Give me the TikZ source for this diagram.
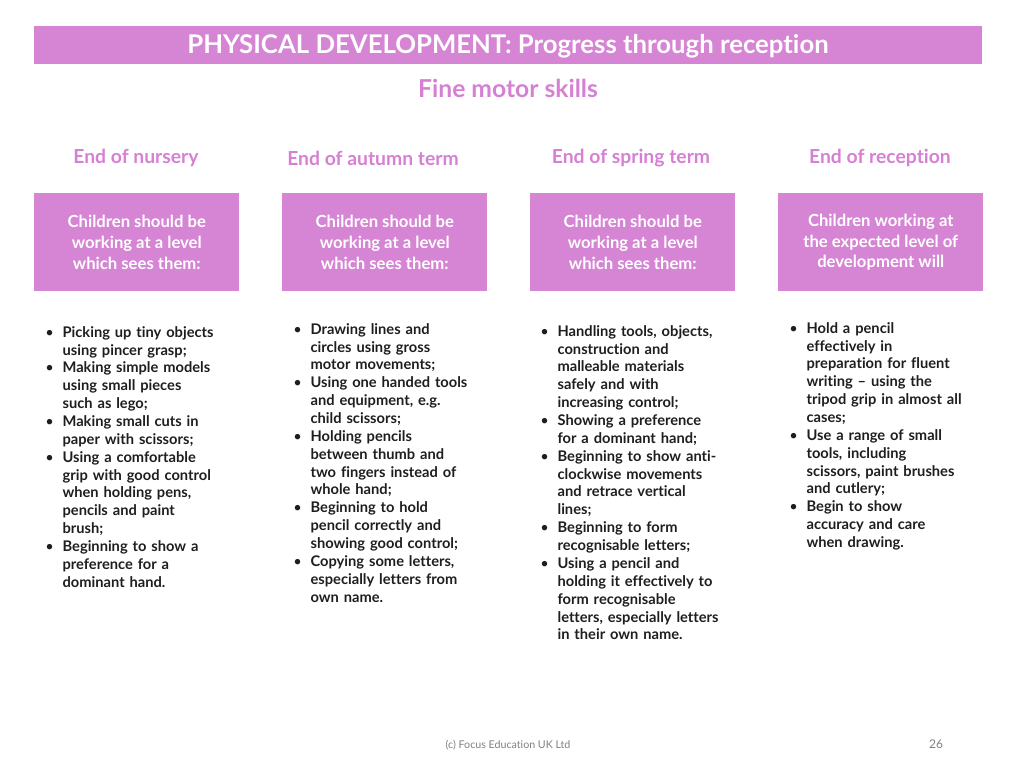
\documentclass[tikz,border=0pt]{standalone}
\usepackage{fontspec}
\setmainfont{Lato}[RawFeature={-liga;-dlig;-clig}]
\definecolor{pinkbar}{RGB}{214,132,212}
\definecolor{pinktxt}{RGB}{214,128,212}
\definecolor{bodytxt}{RGB}{30,30,30}
\newcommand\bit[1]{\par\noindent\hangindent=13pt\hbox to 13pt{\normalfont\textbullet\hfil}#1\par}
\begin{document}
\begin{tikzpicture}[x=0.75pt,y=-0.75pt,
  bar/.style={fill=pinkbar,draw=none},
  hdr/.style={text=pinktxt,font=\fontsize{14.5}{16}\selectfont\bfseries},
  stagebox/.style={fill=pinkbar,draw=none,minimum width=153.75pt,minimum height=73.5pt,anchor=north west,text=white,align=center,font=\fontsize{12.5}{15.5}\selectfont\bfseries},
  lst/.style={anchor=north west,text width=#1,align=left,text=bodytxt,inner sep=0pt,font=\fontsize{11}{13.4}\selectfont\bfseries}]
\useasboundingbox (0,0) rectangle (1024,768);
\fill[bar] (34,26) rectangle (982,64);
\node[text=white,font=\fontsize{19.3}{22}\selectfont\bfseries] (title) at (508,46) {PHYSICAL DEVELOPMENT: Progress through reception};
\node[hdr,font=\fontsize{18.5}{20}\selectfont\bfseries] (sub) at (508,88) {Fine motor skills};
\node[hdr] (h1) at (136,158) {End of nursery};
\node[hdr] (h2) at (373,158) {End of autumn term};
\node[hdr] (h3) at (631,158) {End of spring term};
\node[hdr] (h4) at (880,158) {End of reception};
\node[stagebox] (b1) at (34,193) {Children should be\\working at a level\\which sees them:};
\node[stagebox] (b2) at (282,193) {Children should be\\working at a level\\which sees them:};
\node[stagebox] (b3) at (530,193) {Children should be\\working at a level\\which sees them:};
\node[stagebox] (b4) at (778,193) {Children working at\\the expected level of\\development will};
\node[lst=150pt] (l1) at (45,319) {%
\bit{Picking up tiny objects\newline using pincer grasp;}
\bit{Making simple models\newline using small pieces\newline such as lego;}
\bit{Making small cuts in\newline paper with scissors;}
\bit{Using a comfortable\newline grip with good control\newline when holding pens,\newline pencils and paint\newline brush;}
\bit{Beginning to show a\newline preference for a\newline dominant hand.}};
\node[lst=150pt] (l2) at (293,316) {%
\bit{Drawing lines and\newline circles using gross\newline motor movements;}
\bit{Using one handed tools\newline and equipment, e.g.\newline child scissors;}
\bit{Holding pencils\newline between thumb and\newline two fingers instead of\newline whole hand;}
\bit{Beginning to hold\newline pencil correctly and\newline showing good control;}
\bit{Copying some letters,\newline especially letters from\newline own name.}};
\node[lst=150pt] (l3) at (540,318) {%
\bit{Handling tools, objects,\newline construction and\newline malleable materials\newline safely and with\newline increasing control;}
\bit{Showing a preference\newline for a dominant hand;}
\bit{Beginning to show anti-\newline clockwise movements\newline and retrace vertical\newline lines;}
\bit{Beginning to form\newline recognisable letters;}
\bit{Using a pencil and\newline holding it effectively to\newline form recognisable\newline letters, especially letters\newline in their own name.}};
\node[lst=150pt] (l4) at (789,315) {%
\bit{Hold a pencil\newline effectively in\newline preparation for fluent\newline writing -- using the\newline tripod grip in almost all\newline cases;}
\bit{Use a range of small\newline tools, including\newline scissors, paint brushes\newline and cutlery;}
\bit{Begin to show\newline accuracy and care\newline when drawing.}};
\node[text=gray,font=\fontsize{8}{10}\selectfont] (foot) at (508,745) {(c) Focus Education UK Ltd};
\node[text=gray,font=\fontsize{9}{10}\selectfont] (pg) at (936,744) {26};
\end{tikzpicture}
\end{document}
